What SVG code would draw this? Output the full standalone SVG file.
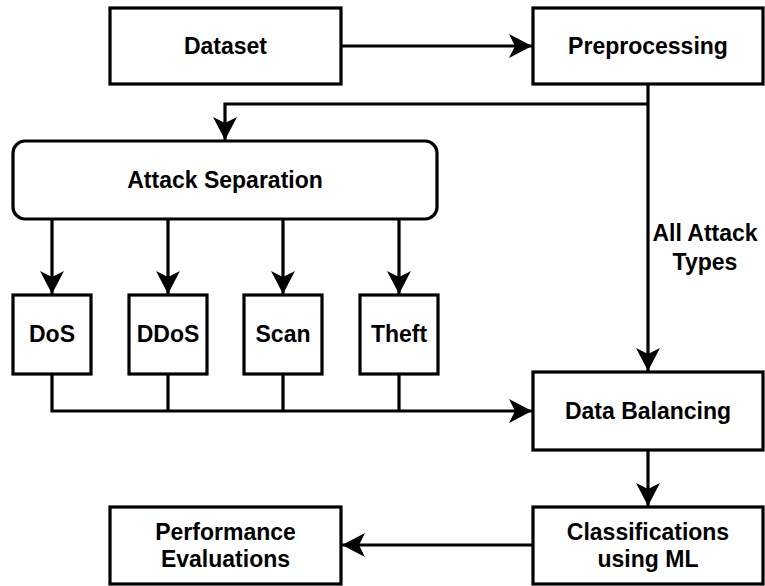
<svg xmlns="http://www.w3.org/2000/svg" width="765" height="586" viewBox="0 0 765 586">
  <style>
    .box { fill: #ffffff; stroke: #000000; stroke-width: 3.2; }
    .lbl { font-family: "Liberation Sans", Arial, sans-serif; font-weight: bold; font-size: 23px; fill: #000000; text-anchor: middle; dominant-baseline: central; }
    .edge { fill: none; stroke: #000000; stroke-width: 3.2; }
  </style>
  <defs>
    <marker id="arrow" markerUnits="userSpaceOnUse" markerWidth="26" markerHeight="26" refX="23" refY="12" orient="auto">
      <path d="M0,0 L23,12 L0,24 L6,12 Z" fill="#000000"/>
    </marker>
  </defs>
  <rect width="765" height="586" fill="#ffffff"/>

  <g id="connectors">
    <path class="edge" d="M341,46 H532" marker-end="url(#arrow)"/>
    <path class="edge" d="M648,84 V371" marker-end="url(#arrow)"/>
    <path class="edge" d="M648,104 H225 V140" marker-end="url(#arrow)"/>
    <path class="edge" d="M52,219 V294" marker-end="url(#arrow)"/>
    <path class="edge" d="M168,219 V294" marker-end="url(#arrow)"/>
    <path class="edge" d="M283,219 V294" marker-end="url(#arrow)"/>
    <path class="edge" d="M399,219 V294" marker-end="url(#arrow)"/>
    <path class="edge" d="M52,374 V411 H532" marker-end="url(#arrow)"/>
    <path class="edge" d="M168,374 V411"/>
    <path class="edge" d="M283,374 V411"/>
    <path class="edge" d="M399,374 V411"/>
    <path class="edge" d="M648,450 V506" marker-end="url(#arrow)"/>
    <path class="edge" d="M533,545 H342" marker-end="url(#arrow)"/>
    <g id="edge-label">
      <text class="lbl" x="705" y="233">All Attack</text>
      <text class="lbl" x="705" y="262">Types</text>
    </g>
  </g>

  <g id="dataset">
    <rect class="box" x="110" y="8" width="231" height="76"/>
    <text class="lbl" x="225.5" y="46">Dataset</text>
  </g>
  <g id="preprocessing">
    <rect class="box" x="533" y="8" width="230" height="76"/>
    <text class="lbl" x="648" y="46">Preprocessing</text>
  </g>
  <g id="attack-separation">
    <rect class="box" x="13" y="141" width="424" height="78" rx="12" ry="12"/>
    <text class="lbl" x="225" y="180">Attack Separation</text>
  </g>
  <g id="dos">
    <rect class="box" x="13" y="295" width="78" height="79"/>
    <text class="lbl" x="52" y="334">DoS</text>
  </g>
  <g id="ddos">
    <rect class="box" x="129" y="295" width="78" height="79"/>
    <text class="lbl" x="168" y="334">DDoS</text>
  </g>
  <g id="scan">
    <rect class="box" x="244" y="295" width="78" height="79"/>
    <text class="lbl" x="283" y="334">Scan</text>
  </g>
  <g id="theft">
    <rect class="box" x="360" y="295" width="78" height="79"/>
    <text class="lbl" x="399" y="334">Theft</text>
  </g>
  <g id="data-balancing">
    <rect class="box" x="533" y="372" width="230" height="78"/>
    <text class="lbl" x="648" y="411">Data Balancing</text>
  </g>
  <g id="classifications">
    <rect class="box" x="533" y="507" width="230" height="77"/>
    <text class="lbl" x="648" y="532">Classifications</text>
    <text class="lbl" x="648" y="559">using ML</text>
  </g>
  <g id="performance">
    <rect class="box" x="110" y="507" width="231" height="77"/>
    <text class="lbl" x="225.5" y="532">Performance</text>
    <text class="lbl" x="225.5" y="559">Evaluations</text>
  </g>
</svg>
